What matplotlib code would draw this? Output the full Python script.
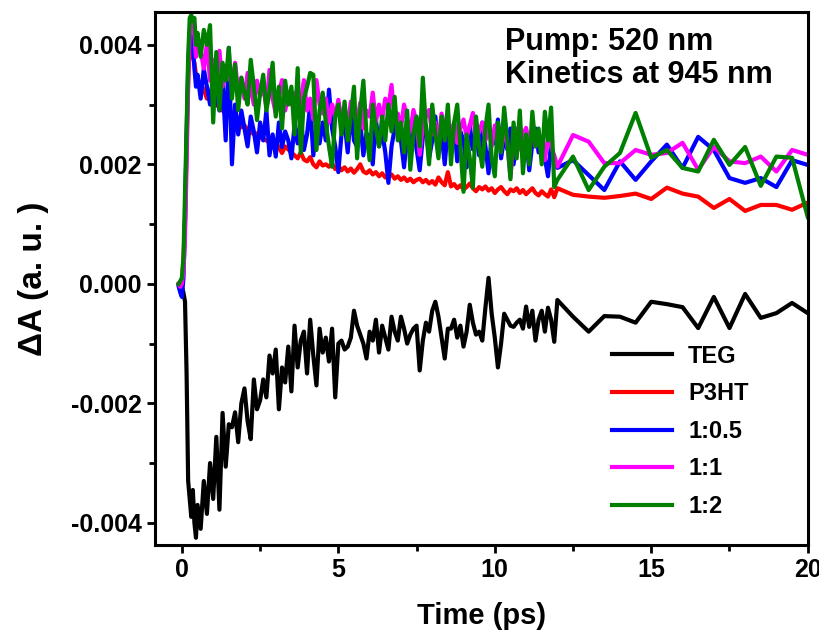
import numpy as np
import matplotlib
matplotlib.use("Agg")
import matplotlib.pyplot as plt
from matplotlib.ticker import MultipleLocator, FormatStrFormatter

plt.rcParams['font.family'] = ['Liberation Sans', 'DejaVu Sans']
plt.rcParams['font.weight'] = 'bold'
plt.rcParams['axes.unicode_minus'] = False

################################################################################
# DATOS  (delta A en unidades de 1e-5)
#------------------------------------------------------------------------------#

# rejilla temporal (ps): fina al principio, luego 0.1 ps, luego 0.5 ps
t_rise = [-0.1, -0.05, 0.0, 0.05, 0.1, 0.15, 0.2, 0.25, 0.3, 0.35, 0.4, 0.45, 0.5]
t_mid = np.round(np.arange(0.6, 12.01, 0.1), 2)
t_tail = [12.5, 13.0, 13.5, 14.0, 14.5, 15.0, 15.5, 16.0,
          16.5, 17.0, 17.5, 18.0, 18.5, 19.0, 19.5, 20.0]
tiempo = np.concatenate([t_rise, t_mid, t_tail])

teg = [0, -2, -5, -15, -30, -150, -330, -360, -390, -345, -400, -425, -370,
       -410, -330, -385, -300, -360, -256, -378, -216, -306, -235,
       -240, -215, -265, -200, -175, -230, -260, -160, -210, -195,
       -160, -190, -120, -150, -110, -210, -140, -165, -105, -180,
       -70, -140, -95, -80, -150, -60, -120, -170, -75, -115,
       -90, -130, -75, -190, -100, -95, -110, -105, -90, -45,
       -70, -85, -100, -125, -80, -95, -60, -115, -70, -90,
       -110, -55, -80, -95, -55, -75, -100, -85, -75, -70,
       -145, -95, -65, -80, -45, -30, -55, -90, -125, -75,
       -75, -60, -90, -70, -105, -80, -35, -65, -85, -80,
       -95, -40, 10, -50, -90, -140, -100, -50, -60, -70,
       -72, -65, -60, -75, -38, -72, -45, -95, -60, -45,
       -80, -40, -60, -97, -27,
       -55, -80, -54, -55, -65, -30, -34, -39, -74, -22, -74, -17, -57, -49, -32, -49]

p3ht = [0, 0, 2, 40, 110, 230, 340, 395, 405, 380, 370, 350, 340,
        335, 325, 310, 318, 305, 300, 295, 290, 285, 282,
        278, 270, 268, 262, 265, 258, 255, 250, 252, 245,
        242, 240, 236, 232, 238, 228, 219, 230, 225, 220,
        215, 210, 220, 208, 205, 212, 200, 195, 205, 198,
        200, 196, 202, 192, 198, 190, 195, 188, 193, 186,
        192, 200, 188, 185, 190, 183, 187, 180, 185, 178,
        179, 183, 176, 180, 174, 178, 172, 176, 170, 174,
        176, 170, 174, 168, 172, 166, 178, 170, 165, 187,
        163, 167, 160, 165, 158, 162, 168, 160, 155, 162,
        158, 163, 156, 160, 152, 158, 162, 155, 150, 158,
        155, 160, 152, 157, 150, 155, 160, 152, 148, 155,
        150, 146, 158, 145, 160,
        149, 146, 144, 147, 151, 142, 161, 151, 146, 127, 142, 122, 132, 132, 124, 136]

r_05 = [-5, -15, -22, 10, 100, 250, 360, 420, 440, 400, 360, 330, 350,
        310, 360, 330, 300, 350, 320, 290, 340, 240, 395,
        200, 300, 250, 290, 260, 230, 280, 255, 220, 270,
        240, 290, 215, 250, 213, 270, 229, 255, 240, 210,
        265, 235, 280, 224, 250, 300, 215, 260, 235, 270,
        240, 325, 260, 230, 187, 250, 270, 220, 291, 240,
        229, 270, 215, 252, 240, 200, 275, 230, 255, 220,
        169, 230, 260, 283, 240, 195, 250, 215, 270, 225,
        190, 245, 265, 210, 240, 280, 220, 250, 200, 260,
        230, 270, 205, 255, 240, 195, 265, 225, 250, 215,
        270, 230, 185, 250, 235, 275, 210, 245, 225, 260,
        200, 240, 265, 215, 250, 190, 235, 260, 220, 245,
        210, 180, 235, 200, 194,
        207, 182, 157, 205, 174, 205, 233, 194, 246, 224, 177, 169, 177, 162, 207, 199]

r_1 = [0, -5, 0, 20, 80, 200, 330, 420, 445, 430, 415, 380, 400,
       390, 360, 403, 340, 375, 358, 390, 330, 365, 345,
       335, 370, 320, 345, 310, 353, 325, 300, 340, 315,
       330, 295, 358, 310, 285, 320, 341, 290, 315, 300,
       320, 280, 305, 341, 290, 310, 275, 341, 300, 285,
       310, 270, 300, 280, 308, 275, 295, 265, 305, 285,
       270, 303, 260, 290, 280, 320, 271, 300, 275, 310,
       295, 333, 270, 285, 260, 300, 275, 255, 291, 270,
       216, 265, 280, 291, 250, 270, 240, 285, 260, 275,
       250, 270, 236, 260, 275, 245, 265, 286, 240, 255,
       270, 240, 260, 230, 265, 245, 225, 255, 235, 179,
       240, 260, 225, 250, 261, 235, 255, 230, 250, 220,
       207, 245, 230, 215, 196,
       249, 238, 202, 202, 224, 216, 219, 236, 191, 229, 205, 202, 213, 188, 224, 216]

r_2 = [0, 5, 10, 45, 150, 260, 380, 445, 450, 440, 445, 400, 420,
       380, 425, 400, 433, 270, 388, 291, 370, 340, 395,
       310, 367, 291, 345, 320, 300, 375, 330, 274, 320,
       350, 290, 320, 370, 280, 330, 260, 340, 300, 330,
       250, 361, 219, 310, 330, 353, 350, 224, 290, 320,
       270, 230, 196, 280, 300, 250, 305, 240, 280, 330,
       210, 290, 340, 250, 207, 300, 260, 230, 280, 240,
       300, 255, 313, 240, 270, 220, 290, 191, 250, 280,
       230, 345, 260, 200, 300, 250, 210, 280, 240, 300,
       200, 270, 300, 230, 154, 250, 210, 161, 280, 230,
       196, 260, 300, 210, 180, 270, 220, 295, 240, 175,
       270, 210, 290, 185, 250, 200, 288, 230, 260, 200,
       288, 240, 295, 162, 174,
       213, 157, 196, 219, 286, 211, 224, 194, 188, 241, 199, 229, 164, 213, 211, 112]

etiquetas = ['TEG', 'P3HT', '1:0.5', '1:1', '1:2']
colores = ['black', 'red', 'blue', 'magenta', 'green']
series = [teg, p3ht, r_05, r_1, r_2]

################################################################################
# FIGURA
#------------------------------------------------------------------------------#

fig = plt.figure(figsize=(8.2, 6.3), dpi=100)
ax = fig.add_axes([0.189, 0.135, 0.796, 0.846])

for datos, nombre, color in zip(series, etiquetas, colores):
    ax.plot(tiempo, np.array(datos) * 1e-5, color=color, lw=3.0, label=nombre)

ax.set_xlim(-0.86, 20)
ax.set_ylim(-0.00437, 0.00455)
ax.xaxis.set_major_locator(MultipleLocator(5))
ax.xaxis.set_minor_locator(MultipleLocator(2.5))
ax.yaxis.set_major_locator(MultipleLocator(0.002))
ax.yaxis.set_minor_locator(MultipleLocator(0.001))
ax.yaxis.set_major_formatter(FormatStrFormatter('%.3f'))

for lado in ax.spines.values():
    lado.set_linewidth(2.2)
ax.tick_params(which='major', direction='out', length=6, width=2, labelsize=18)
ax.tick_params(which='minor', direction='out', length=4, width=2)

ax.set_xlabel('Time (ps)', fontsize=21, fontweight='bold', labelpad=14)
ax.set_ylabel('ΔA (a. u. )', fontsize=24, fontweight='bold', labelpad=16)

ax.text(0.536, 0.929, 'Pump: 520 nm', transform=ax.transAxes,
        fontsize=22, fontweight='bold', va='baseline')
ax.text(0.536, 0.867, 'Kinetics at 945 nm', transform=ax.transAxes,
        fontsize=22, fontweight='bold', va='baseline')

ax.legend(loc='upper left', bbox_to_anchor=(0.70, 0.376), frameon=False,
          fontsize=17, handlelength=2.55, labelspacing=0.62, handletextpad=0.68,
          borderpad=0, borderaxespad=0)

fig.savefig('out.png', dpi=100)
